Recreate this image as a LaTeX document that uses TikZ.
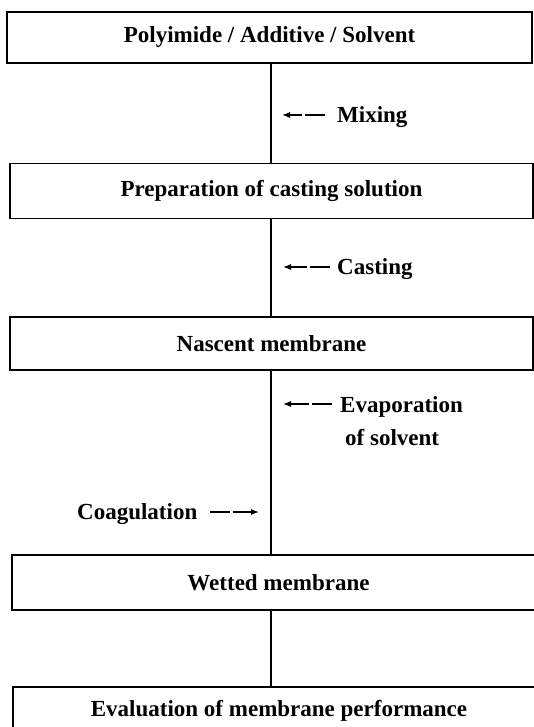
\documentclass[tikz,border=0pt]{standalone}
\usepackage{fontspec}
\setmainfont{Liberation Serif}
\usetikzlibrary{arrows.meta}
\begin{document}
\begin{tikzpicture}[x=1pt,y=-1pt,
  stage/.style={draw,line width=1.5pt,minimum width=523pt,minimum height=54pt,inner sep=0pt,
    font=\bfseries\fontsize{23}{33}\selectfont},
  note/.style={inner sep=0pt,font=\bfseries\fontsize{23}{33}\selectfont},
  link/.style={line width=2pt},
  flow/.style={line width=1.1pt,dash pattern=on 20pt off 3pt on 80pt off 0pt,-{Latex[length=8pt,width=6pt]}}]
  \clip (0,0) rectangle (534,727);
  \coordinate (spine) at (271,0);
  % process stages
  \node[stage,minimum width=525pt,minimum height=51pt] (mix) at (269.5,37.5) {Polyimide / Additive / Solvent};
  \node[stage,minimum height=55pt] (prep) at (271.5,191) {Preparation of casting solution};
  \node[stage,minimum height=53pt] (nasc) at (271.5,343.5) {Nascent membrane};
  \node[stage,minimum width=533pt,minimum height=55pt] (wet) at (278.5,582.5) {Wetted membrane};
  \node[stage,minimum width=532pt,minimum height=48pt] (eval) at (279,711) {Evaluation of membrane performance};
  \draw[link] (mix.south -| spine) -- (prep.north -| spine);
  \draw[link] (prep.south -| spine) -- (nasc.north -| spine);
  \draw[link] (nasc.south -| spine) -- (wet.north -| spine);
  \draw[link] (wet.south -| spine) -- (eval.north -| spine);
  % side steps
  \node[note,anchor=west] (mixing) at (337,117) {Mixing};
  \coordinate (mixtip) at (282,115);
  \draw[flow] ([xshift=-12pt]mixing.west |- mixtip) -- (mixtip);
  \node[note,anchor=west] (casting) at (337,269) {Casting};
  \coordinate (casttip) at (283,267);
  \draw[flow] ([xshift=-7pt]casting.west |- casttip) -- (casttip);
  \node[note,anchor=north west,align=left] (evap) at (340,396) {Evaporation\\\hspace*{5pt}of solvent};
  \coordinate (evaptip) at (283,404);
  \draw[flow] ([xshift=-8pt]evap.north west |- evaptip) -- (evaptip);
  \node[note,anchor=east] (coag) at (197.5,514) {Coagulation};
  \coordinate (coagtip) at (259,512);
  \draw[flow] ([xshift=12pt]coag.east |- coagtip) -- (coagtip);
\end{tikzpicture}
\end{document}
